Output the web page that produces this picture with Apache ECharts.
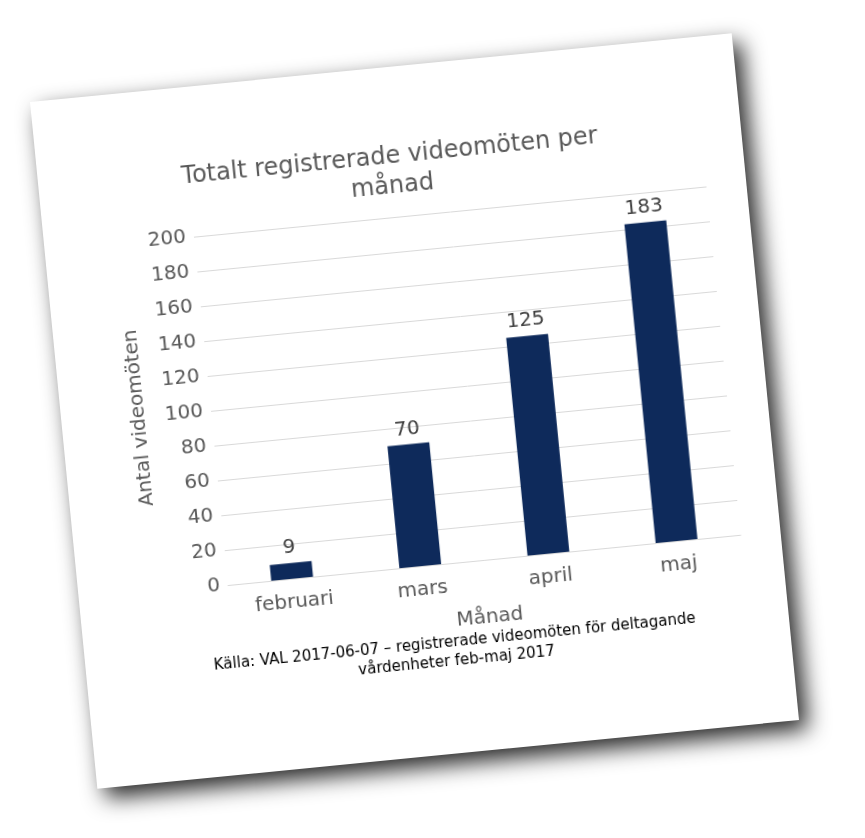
<!DOCTYPE html>
<html><head><meta charset="utf-8">
<script src="https://cdn.jsdelivr.net/npm/echarts@6/dist/echarts.min.js"></script>
<style>
body{margin:0;width:865px;height:838px;background:#fff;overflow:hidden;font-family:"DejaVu Sans",sans-serif}
#card{position:absolute;left:62px;top:66px;width:705px;height:690px;background:#fff;
transform:rotate(-5.6deg);box-shadow:8px 10px 22px rgba(0,0,0,0.85)}
#chart{width:705px;height:690px}
</style></head><body>
<div id="card"><div id="chart"></div></div>
<script>
var months = ["februari", "mars", "april", "maj"];
var meetings = [9, 70, 125, 183];
var source = "Källa: VAL 2017-06-07 – registrerade videomöten för deltagande\nvårdenheter feb-maj 2017";

var chart = echarts.init(document.getElementById('chart'));
var grey = '#595959';
var font = 'DejaVu Sans';
chart.setOption({
    title: {
        text: 'Totalt registrerade videomöten per\nmånad',
        left: 'center', top: 70,
        textStyle: {color: grey, fontSize: 24, fontWeight: 'normal', lineHeight: 30, fontFamily: font}
    },
    grid: {left: 150, right: 40, top: 150, bottom: 190},
    xAxis: {
        type: 'category', data: months,
        name: 'Månad', nameLocation: 'middle', nameGap: 48,
        nameTextStyle: {color: grey, fontSize: 20, fontFamily: font},
        axisLine: {lineStyle: {color: '#d9d9d9'}},
        axisTick: {show: false},
        axisLabel: {color: grey, fontSize: 20, margin: 14, fontFamily: font}
    },
    yAxis: {
        type: 'value', min: 0, max: 200, interval: 20,
        name: 'Antal videomöten', nameLocation: 'middle', nameGap: 62,
        nameTextStyle: {color: grey, fontSize: 20, fontFamily: font},
        axisLabel: {color: grey, fontSize: 20, fontFamily: font},
        splitLine: {lineStyle: {color: '#d9d9d9'}}
    },
    series: [{
        type: 'bar', data: meetings, barWidth: 42,
        itemStyle: {color: '#0e2a5b'},
        label: {show: true, position: 'top', color: '#404040', fontSize: 20, fontFamily: font}
    }],
    graphic: [{
        type: 'text', x: 370, y: 570,
        style: {text: source, fill: '#000', fontSize: 15, textAlign: 'center', lineHeight: 19, fontFamily: font}
    }]
});
</script>
</body></html>
